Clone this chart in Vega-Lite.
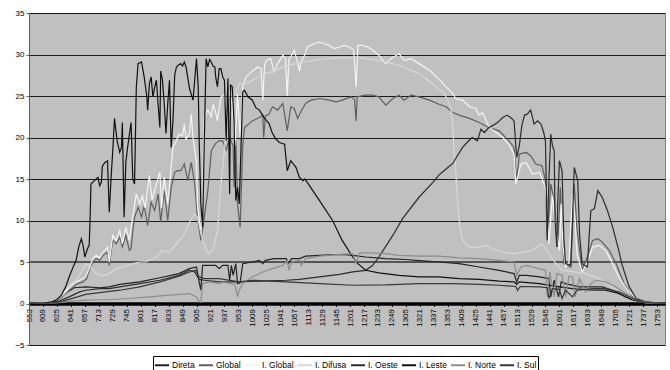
{
  "$schema": "https://vega.github.io/schema/vega-lite/v6.json",
  "width": 636,
  "height": 332,
  "autosize": {"type": "none"},
  "padding": {"left": 29, "top": 13, "right": 5, "bottom": 25},
  "background": "white",
  "config": {"view": {"fill": "#c0c0c0", "stroke": "#808080", "strokeWidth": 1}, "font": "Liberation Sans"},
  "data": {"values": [
{"min":353,"serie":"Direta","v":0},{"min":376,"serie":"Direta","v":0.05},{"min":383,"serie":"Direta","v":0.3},{"min":394,"serie":"Direta","v":1.2},{"min":405,"serie":"Direta","v":1.9},{"min":418,"serie":"Direta","v":2.0},{"min":434,"serie":"Direta","v":1.9},{"min":445,"serie":"Direta","v":2.0},{"min":457,"serie":"Direta","v":2.3},{"min":480,"serie":"Direta","v":2.6},{"min":503,"serie":"Direta","v":3.1},{"min":525,"serie":"Direta","v":3.6},{"min":537,"serie":"Direta","v":4.2},{"min":545,"serie":"Direta","v":4.4},{"min":548,"serie":"Direta","v":2.6},{"min":550,"serie":"Direta","v":1.6},{"min":552,"serie":"Direta","v":4.6},{"min":560,"serie":"Direta","v":4.6},{"min":567,"serie":"Direta","v":4.6},{"min":571,"serie":"Direta","v":4.2},{"min":575,"serie":"Direta","v":4.6},{"min":581,"serie":"Direta","v":4.6},{"min":583,"serie":"Direta","v":2.8},{"min":585,"serie":"Direta","v":4.6},{"min":587,"serie":"Direta","v":3.4},{"min":590,"serie":"Direta","v":4.8},{"min":592,"serie":"Direta","v":2.4},{"min":595,"serie":"Direta","v":2.5},{"min":598,"serie":"Direta","v":4.8},{"min":609,"serie":"Direta","v":5.0},{"min":617,"serie":"Direta","v":5.2},{"min":621,"serie":"Direta","v":4.8},{"min":624,"serie":"Direta","v":5.2},{"min":634,"serie":"Direta","v":5.4},{"min":648,"serie":"Direta","v":5.4},{"min":650,"serie":"Direta","v":4.8},{"min":654,"serie":"Direta","v":5.4},{"min":663,"serie":"Direta","v":5.4},{"min":670,"serie":"Direta","v":5.7},{"min":686,"serie":"Direta","v":5.8},{"min":701,"serie":"Direta","v":5.9},{"min":716,"serie":"Direta","v":5.9},{"min":724,"serie":"Direta","v":5.8},{"min":739,"serie":"Direta","v":5.6},{"min":762,"serie":"Direta","v":5.4},{"min":785,"serie":"Direta","v":5.3},{"min":808,"serie":"Direta","v":5.1},{"min":823,"serie":"Direta","v":5.0},{"min":846,"serie":"Direta","v":4.8},{"min":869,"serie":"Direta","v":4.4},{"min":892,"serie":"Direta","v":4.0},{"min":909,"serie":"Direta","v":3.6},{"min":912,"serie":"Direta","v":2.6},{"min":915,"serie":"Direta","v":3.4},{"min":923,"serie":"Direta","v":3.4},{"min":938,"serie":"Direta","v":3.2},{"min":949,"serie":"Direta","v":3.0},{"min":951,"serie":"Direta","v":0.8},{"min":955,"serie":"Direta","v":2.8},{"min":960,"serie":"Direta","v":0.8},{"min":963,"serie":"Direta","v":2.6},{"min":968,"serie":"Direta","v":2.4},{"min":984,"serie":"Direta","v":2.0},{"min":999,"serie":"Direta","v":2.0},{"min":1010,"serie":"Direta","v":2.0},{"min":1022,"serie":"Direta","v":1.6},{"min":1037,"serie":"Direta","v":0.8},{"min":1052,"serie":"Direta","v":0.2},{"min":1081,"serie":"Direta","v":0},

{"min":353,"serie":"Global","v":0},{"min":376,"serie":"Global","v":0.05},{"min":384,"serie":"Global","v":0.2},{"min":391,"serie":"Global","v":0.8},{"min":399,"serie":"Global","v":1.6},{"min":409,"serie":"Global","v":2.4},{"min":415,"serie":"Global","v":2.6},{"min":419,"serie":"Global","v":3.0},{"min":422,"serie":"Global","v":4.0},{"min":426,"serie":"Global","v":5.0},{"min":430,"serie":"Global","v":5.4},{"min":434,"serie":"Global","v":5.2},{"min":438,"serie":"Global","v":5.8},{"min":443,"serie":"Global","v":6.2},{"min":445,"serie":"Global","v":4.6},{"min":449,"serie":"Global","v":7.6},{"min":453,"serie":"Global","v":7.2},{"min":457,"serie":"Global","v":8.0},{"min":460,"serie":"Global","v":6.8},{"min":464,"serie":"Global","v":8.2},{"min":468,"serie":"Global","v":6.4},{"min":470,"serie":"Global","v":6.6},{"min":472,"serie":"Global","v":8.8},{"min":474,"serie":"Global","v":10.4},{"min":478,"serie":"Global","v":11.6},{"min":482,"serie":"Global","v":10.4},{"min":485,"serie":"Global","v":11.8},{"min":489,"serie":"Global","v":9.4},{"min":493,"serie":"Global","v":12.2},{"min":497,"serie":"Global","v":11.2},{"min":501,"serie":"Global","v":13.2},{"min":504,"serie":"Global","v":9.8},{"min":508,"serie":"Global","v":13.6},{"min":512,"serie":"Global","v":10},{"min":516,"serie":"Global","v":14},{"min":520,"serie":"Global","v":15.8},{"min":523,"serie":"Global","v":16},{"min":527,"serie":"Global","v":16},{"min":531,"serie":"Global","v":16.8},{"min":535,"serie":"Global","v":14.8},{"min":539,"serie":"Global","v":17},{"min":543,"serie":"Global","v":14.4},{"min":546,"serie":"Global","v":10.4},{"min":550,"serie":"Global","v":7.6},{"min":554,"serie":"Global","v":10.4},{"min":558,"serie":"Global","v":13.6},{"min":562,"serie":"Global","v":18.4},{"min":564,"serie":"Global","v":18.8},{"min":567,"serie":"Global","v":19.3},{"min":571,"serie":"Global","v":19.6},{"min":575,"serie":"Global","v":19.6},{"min":579,"serie":"Global","v":18.5},{"min":583,"serie":"Global","v":20},{"min":587,"serie":"Global","v":19},{"min":588,"serie":"Global","v":14},{"min":590,"serie":"Global","v":19.6},{"min":592,"serie":"Global","v":12},{"min":595,"serie":"Global","v":9.2},{"min":598,"serie":"Global","v":19},{"min":600,"serie":"Global","v":21.2},{"min":609,"serie":"Global","v":22},{"min":617,"serie":"Global","v":22.4},{"min":621,"serie":"Global","v":22.7},{"min":622,"serie":"Global","v":20},{"min":624,"serie":"Global","v":22.6},{"min":628,"serie":"Global","v":22.8},{"min":632,"serie":"Global","v":23.7},{"min":638,"serie":"Global","v":23.3},{"min":644,"serie":"Global","v":24.1},{"min":649,"serie":"Global","v":20.8},{"min":653,"serie":"Global","v":23.7},{"min":657,"serie":"Global","v":23.5},{"min":661,"serie":"Global","v":22.3},{"min":665,"serie":"Global","v":23.2},{"min":670,"serie":"Global","v":24.1},{"min":676,"serie":"Global","v":24.5},{"min":686,"serie":"Global","v":24.7},{"min":697,"serie":"Global","v":24.5},{"min":705,"serie":"Global","v":24.3},{"min":712,"serie":"Global","v":24.5},{"min":722,"serie":"Global","v":24.9},{"min":726,"serie":"Global","v":24.6},{"min":728,"serie":"Global","v":22},{"min":729,"serie":"Global","v":24.9},{"min":739,"serie":"Global","v":25.1},{"min":747,"serie":"Global","v":25.1},{"min":754,"serie":"Global","v":24.9},{"min":762,"serie":"Global","v":23.9},{"min":770,"serie":"Global","v":24.7},{"min":777,"serie":"Global","v":25.1},{"min":783,"serie":"Global","v":24.5},{"min":791,"serie":"Global","v":25.1},{"min":800,"serie":"Global","v":24.9},{"min":812,"serie":"Global","v":24.5},{"min":823,"serie":"Global","v":24.0},{"min":831,"serie":"Global","v":23.7},{"min":839,"serie":"Global","v":23.0},{"min":846,"serie":"Global","v":22.7},{"min":858,"serie":"Global","v":22.3},{"min":869,"serie":"Global","v":21.8},{"min":880,"serie":"Global","v":21.2},{"min":892,"serie":"Global","v":20.8},{"min":903,"serie":"Global","v":19.6},{"min":909,"serie":"Global","v":18.8},{"min":912,"serie":"Global","v":14.8},{"min":915,"serie":"Global","v":18},{"min":923,"serie":"Global","v":18.2},{"min":928,"serie":"Global","v":17.8},{"min":934,"serie":"Global","v":16.8},{"min":941,"serie":"Global","v":16.6},{"min":945,"serie":"Global","v":14.8},{"min":947,"serie":"Global","v":8},{"min":949,"serie":"Global","v":11},{"min":951,"serie":"Global","v":14.4},{"min":955,"serie":"Global","v":12.4},{"min":959,"serie":"Global","v":6.8},{"min":962,"serie":"Global","v":14},{"min":964,"serie":"Global","v":10},{"min":966,"serie":"Global","v":4.8},{"min":974,"serie":"Global","v":4.4},{"min":978,"serie":"Global","v":14.4},{"min":981,"serie":"Global","v":9},{"min":987,"serie":"Global","v":4.0},{"min":993,"serie":"Global","v":5.6},{"min":999,"serie":"Global","v":7.6},{"min":1005,"serie":"Global","v":7.8},{"min":1010,"serie":"Global","v":7.4},{"min":1018,"serie":"Global","v":6.4},{"min":1026,"serie":"Global","v":4.8},{"min":1035,"serie":"Global","v":2.4},{"min":1045,"serie":"Global","v":0.8},{"min":1058,"serie":"Global","v":0.2},{"min":1081,"serie":"Global","v":0},

{"min":353,"serie":"I. Global","v":0},{"min":376,"serie":"I. Global","v":0.05},{"min":383,"serie":"I. Global","v":0.3},{"min":392,"serie":"I. Global","v":1.2},{"min":403,"serie":"I. Global","v":2.4},{"min":411,"serie":"I. Global","v":2.8},{"min":418,"serie":"I. Global","v":3.2},{"min":422,"serie":"I. Global","v":4.2},{"min":426,"serie":"I. Global","v":5.4},{"min":430,"serie":"I. Global","v":5.8},{"min":434,"serie":"I. Global","v":5.5},{"min":438,"serie":"I. Global","v":6.2},{"min":443,"serie":"I. Global","v":6.8},{"min":445,"serie":"I. Global","v":5},{"min":449,"serie":"I. Global","v":8.2},{"min":453,"serie":"I. Global","v":7.6},{"min":457,"serie":"I. Global","v":8.8},{"min":460,"serie":"I. Global","v":7.2},{"min":464,"serie":"I. Global","v":9.2},{"min":468,"serie":"I. Global","v":7.6},{"min":472,"serie":"I. Global","v":10.5},{"min":476,"serie":"I. Global","v":13.2},{"min":480,"serie":"I. Global","v":12},{"min":483,"serie":"I. Global","v":13},{"min":486,"serie":"I. Global","v":11.5},{"min":491,"serie":"I. Global","v":15.4},{"min":494,"serie":"I. Global","v":12.5},{"min":498,"serie":"I. Global","v":14},{"min":503,"serie":"I. Global","v":15.8},{"min":505,"serie":"I. Global","v":11.5},{"min":508,"serie":"I. Global","v":15.2},{"min":512,"serie":"I. Global","v":12},{"min":516,"serie":"I. Global","v":16.5},{"min":518,"serie":"I. Global","v":18.8},{"min":522,"serie":"I. Global","v":19.6},{"min":525,"serie":"I. Global","v":20.4},{"min":529,"serie":"I. Global","v":20.2},{"min":531,"serie":"I. Global","v":21.6},{"min":533,"serie":"I. Global","v":19.8},{"min":537,"serie":"I. Global","v":20.5},{"min":539,"serie":"I. Global","v":22.8},{"min":541,"serie":"I. Global","v":20},{"min":545,"serie":"I. Global","v":17},{"min":546,"serie":"I. Global","v":12},{"min":550,"serie":"I. Global","v":8.4},{"min":552,"serie":"I. Global","v":13},{"min":554,"serie":"I. Global","v":22.4},{"min":558,"serie":"I. Global","v":23.3},{"min":562,"serie":"I. Global","v":22.5},{"min":564,"serie":"I. Global","v":24.0},{"min":567,"serie":"I. Global","v":23},{"min":569,"serie":"I. Global","v":22},{"min":573,"serie":"I. Global","v":24.9},{"min":577,"serie":"I. Global","v":25.1},{"min":580,"serie":"I. Global","v":23.5},{"min":583,"serie":"I. Global","v":25.7},{"min":586,"serie":"I. Global","v":24},{"min":589,"serie":"I. Global","v":19},{"min":592,"serie":"I. Global","v":25.3},{"min":595,"serie":"I. Global","v":20},{"min":598,"serie":"I. Global","v":26.2},{"min":602,"serie":"I. Global","v":27.3},{"min":608,"serie":"I. Global","v":27.9},{"min":615,"serie":"I. Global","v":28.5},{"min":619,"serie":"I. Global","v":28.3},{"min":621,"serie":"I. Global","v":24.5},{"min":623,"serie":"I. Global","v":28.7},{"min":625,"serie":"I. Global","v":29.3},{"min":630,"serie":"I. Global","v":29.5},{"min":634,"serie":"I. Global","v":27.9},{"min":638,"serie":"I. Global","v":28.9},{"min":644,"serie":"I. Global","v":29.9},{"min":647,"serie":"I. Global","v":29.5},{"min":649,"serie":"I. Global","v":25},{"min":651,"serie":"I. Global","v":29.5},{"min":653,"serie":"I. Global","v":29.7},{"min":657,"serie":"I. Global","v":30.5},{"min":661,"serie":"I. Global","v":29},{"min":663,"serie":"I. Global","v":28},{"min":665,"serie":"I. Global","v":29.2},{"min":669,"serie":"I. Global","v":29.9},{"min":672,"serie":"I. Global","v":30.9},{"min":680,"serie":"I. Global","v":31.3},{"min":686,"serie":"I. Global","v":31.5},{"min":692,"serie":"I. Global","v":31.3},{"min":697,"serie":"I. Global","v":31.1},{"min":703,"serie":"I. Global","v":30.7},{"min":709,"serie":"I. Global","v":30.9},{"min":714,"serie":"I. Global","v":31.1},{"min":720,"serie":"I. Global","v":30.9},{"min":725,"serie":"I. Global","v":30.6},{"min":728,"serie":"I. Global","v":26.1},{"min":730,"serie":"I. Global","v":31.1},{"min":735,"serie":"I. Global","v":31.1},{"min":741,"serie":"I. Global","v":30.9},{"min":747,"serie":"I. Global","v":30.5},{"min":754,"serie":"I. Global","v":29.9},{"min":762,"serie":"I. Global","v":28.9},{"min":768,"serie":"I. Global","v":29.5},{"min":774,"serie":"I. Global","v":29.9},{"min":777,"serie":"I. Global","v":30.1},{"min":783,"serie":"I. Global","v":29.3},{"min":791,"serie":"I. Global","v":29.5},{"min":800,"serie":"I. Global","v":28.9},{"min":812,"serie":"I. Global","v":28.1},{"min":823,"serie":"I. Global","v":27.0},{"min":831,"serie":"I. Global","v":26.1},{"min":839,"serie":"I. Global","v":25.3},{"min":842,"serie":"I. Global","v":24.7},{"min":850,"serie":"I. Global","v":24.5},{"min":858,"serie":"I. Global","v":23.7},{"min":865,"serie":"I. Global","v":23.5},{"min":869,"serie":"I. Global","v":22.7},{"min":873,"serie":"I. Global","v":23},{"min":880,"serie":"I. Global","v":21.3},{"min":888,"serie":"I. Global","v":20.6},{"min":896,"serie":"I. Global","v":20},{"min":903,"serie":"I. Global","v":19.2},{"min":909,"serie":"I. Global","v":18},{"min":911,"serie":"I. Global","v":14.4},{"min":917,"serie":"I. Global","v":16.8},{"min":923,"serie":"I. Global","v":17},{"min":930,"serie":"I. Global","v":15.6},{"min":938,"serie":"I. Global","v":15.8},{"min":945,"serie":"I. Global","v":14},{"min":948,"serie":"I. Global","v":9},{"min":949,"serie":"I. Global","v":7.2},{"min":953,"serie":"I. Global","v":13},{"min":955,"serie":"I. Global","v":11},{"min":957,"serie":"I. Global","v":9},{"min":961,"serie":"I. Global","v":6.4},{"min":963,"serie":"I. Global","v":12},{"min":965,"serie":"I. Global","v":7},{"min":968,"serie":"I. Global","v":4.4},{"min":972,"serie":"I. Global","v":5},{"min":976,"serie":"I. Global","v":13.2},{"min":979,"serie":"I. Global","v":10},{"min":981,"serie":"I. Global","v":6},{"min":987,"serie":"I. Global","v":3.8},{"min":993,"serie":"I. Global","v":5},{"min":999,"serie":"I. Global","v":6.8},{"min":1007,"serie":"I. Global","v":7.0},{"min":1014,"serie":"I. Global","v":6.4},{"min":1022,"serie":"I. Global","v":4.8},{"min":1029,"serie":"I. Global","v":3.2},{"min":1039,"serie":"I. Global","v":1.6},{"min":1049,"serie":"I. Global","v":0.6},{"min":1058,"serie":"I. Global","v":0.15},{"min":1081,"serie":"I. Global","v":0},

{"min":353,"serie":"I. Difusa","v":0},{"min":376,"serie":"I. Difusa","v":0.05},{"min":383,"serie":"I. Difusa","v":0.3},{"min":394,"serie":"I. Difusa","v":1.2},{"min":405,"serie":"I. Difusa","v":2.5},{"min":413,"serie":"I. Difusa","v":3.8},{"min":418,"serie":"I. Difusa","v":4.8},{"min":424,"serie":"I. Difusa","v":4.4},{"min":430,"serie":"I. Difusa","v":3.6},{"min":437,"serie":"I. Difusa","v":3.3},{"min":445,"serie":"I. Difusa","v":3.6},{"min":453,"serie":"I. Difusa","v":4.2},{"min":460,"serie":"I. Difusa","v":4.4},{"min":472,"serie":"I. Difusa","v":4.8},{"min":480,"serie":"I. Difusa","v":5.0},{"min":487,"serie":"I. Difusa","v":5.0},{"min":499,"serie":"I. Difusa","v":5.6},{"min":506,"serie":"I. Difusa","v":6.4},{"min":514,"serie":"I. Difusa","v":6.2},{"min":522,"serie":"I. Difusa","v":7.2},{"min":527,"serie":"I. Difusa","v":7.8},{"min":533,"serie":"I. Difusa","v":8.8},{"min":539,"serie":"I. Difusa","v":10.2},{"min":543,"serie":"I. Difusa","v":10.8},{"min":546,"serie":"I. Difusa","v":10.4},{"min":552,"serie":"I. Difusa","v":7.6},{"min":558,"serie":"I. Difusa","v":6.0},{"min":564,"serie":"I. Difusa","v":6.4},{"min":569,"serie":"I. Difusa","v":8.8},{"min":573,"serie":"I. Difusa","v":14.4},{"min":577,"serie":"I. Difusa","v":18.4},{"min":580,"serie":"I. Difusa","v":22},{"min":584,"serie":"I. Difusa","v":24.5},{"min":588,"serie":"I. Difusa","v":25},{"min":594,"serie":"I. Difusa","v":26.5},{"min":602,"serie":"I. Difusa","v":26.5},{"min":611,"serie":"I. Difusa","v":27},{"min":623,"serie":"I. Difusa","v":27.7},{"min":634,"serie":"I. Difusa","v":28},{"min":646,"serie":"I. Difusa","v":28.6},{"min":663,"serie":"I. Difusa","v":29},{"min":686,"serie":"I. Difusa","v":29.4},{"min":709,"serie":"I. Difusa","v":29.6},{"min":732,"serie":"I. Difusa","v":29.6},{"min":754,"serie":"I. Difusa","v":29.3},{"min":777,"serie":"I. Difusa","v":28.7},{"min":800,"serie":"I. Difusa","v":27.7},{"min":815,"serie":"I. Difusa","v":26.5},{"min":823,"serie":"I. Difusa","v":25.8},{"min":829,"serie":"I. Difusa","v":25.3},{"min":833,"serie":"I. Difusa","v":24.5},{"min":837,"serie":"I. Difusa","v":23.3},{"min":839,"serie":"I. Difusa","v":21.2},{"min":840,"serie":"I. Difusa","v":18.8},{"min":842,"serie":"I. Difusa","v":16.4},{"min":844,"serie":"I. Difusa","v":12.4},{"min":847,"serie":"I. Difusa","v":9.2},{"min":850,"serie":"I. Difusa","v":7.6},{"min":858,"serie":"I. Difusa","v":6.8},{"min":869,"serie":"I. Difusa","v":6.8},{"min":877,"serie":"I. Difusa","v":7.0},{"min":884,"serie":"I. Difusa","v":6.6},{"min":896,"serie":"I. Difusa","v":6.2},{"min":907,"serie":"I. Difusa","v":6.0},{"min":919,"serie":"I. Difusa","v":6.2},{"min":930,"serie":"I. Difusa","v":6.4},{"min":938,"serie":"I. Difusa","v":7.0},{"min":941,"serie":"I. Difusa","v":7.2},{"min":949,"serie":"I. Difusa","v":6.0},{"min":957,"serie":"I. Difusa","v":4.8},{"min":964,"serie":"I. Difusa","v":4.0},{"min":978,"serie":"I. Difusa","v":3.8},{"min":991,"serie":"I. Difusa","v":3.6},{"min":1007,"serie":"I. Difusa","v":3.0},{"min":1021,"serie":"I. Difusa","v":2.0},{"min":1035,"serie":"I. Difusa","v":1.0},{"min":1048,"serie":"I. Difusa","v":0.3},{"min":1061,"serie":"I. Difusa","v":0.05},{"min":1081,"serie":"I. Difusa","v":0},

{"min":353,"serie":"I. Oeste","v":0},{"min":376,"serie":"I. Oeste","v":0.05},{"min":388,"serie":"I. Oeste","v":0.3},{"min":399,"serie":"I. Oeste","v":0.8},{"min":411,"serie":"I. Oeste","v":1.4},{"min":418,"serie":"I. Oeste","v":1.6},{"min":434,"serie":"I. Oeste","v":1.8},{"min":445,"serie":"I. Oeste","v":1.8},{"min":457,"serie":"I. Oeste","v":2.0},{"min":480,"serie":"I. Oeste","v":2.4},{"min":503,"serie":"I. Oeste","v":2.8},{"min":525,"serie":"I. Oeste","v":3.4},{"min":537,"serie":"I. Oeste","v":4.0},{"min":543,"serie":"I. Oeste","v":3.8},{"min":548,"serie":"I. Oeste","v":2.9},{"min":554,"serie":"I. Oeste","v":2.8},{"min":571,"serie":"I. Oeste","v":2.6},{"min":594,"serie":"I. Oeste","v":2.6},{"min":617,"serie":"I. Oeste","v":2.7},{"min":648,"serie":"I. Oeste","v":2.8},{"min":663,"serie":"I. Oeste","v":2.9},{"min":686,"serie":"I. Oeste","v":3.2},{"min":709,"serie":"I. Oeste","v":3.5},{"min":724,"serie":"I. Oeste","v":3.8},{"min":739,"serie":"I. Oeste","v":4.0},{"min":747,"serie":"I. Oeste","v":4.6},{"min":754,"serie":"I. Oeste","v":5.6},{"min":770,"serie":"I. Oeste","v":8.2},{"min":781,"serie":"I. Oeste","v":10.2},{"min":800,"serie":"I. Oeste","v":12.8},{"min":816,"serie":"I. Oeste","v":14.6},{"min":823,"serie":"I. Oeste","v":15.5},{"min":831,"serie":"I. Oeste","v":16.2},{"min":839,"serie":"I. Oeste","v":16.9},{"min":844,"serie":"I. Oeste","v":17.8},{"min":850,"serie":"I. Oeste","v":18.8},{"min":855,"serie":"I. Oeste","v":19.4},{"min":861,"serie":"I. Oeste","v":20.0},{"min":867,"serie":"I. Oeste","v":19.6},{"min":871,"serie":"I. Oeste","v":21.0},{"min":875,"serie":"I. Oeste","v":20.6},{"min":880,"serie":"I. Oeste","v":21.2},{"min":884,"serie":"I. Oeste","v":21.4},{"min":890,"serie":"I. Oeste","v":21.8},{"min":896,"serie":"I. Oeste","v":22.4},{"min":901,"serie":"I. Oeste","v":22.7},{"min":905,"serie":"I. Oeste","v":22.4},{"min":909,"serie":"I. Oeste","v":22},{"min":912,"serie":"I. Oeste","v":17.6},{"min":915,"serie":"I. Oeste","v":19},{"min":918,"serie":"I. Oeste","v":21.5},{"min":921,"serie":"I. Oeste","v":22.7},{"min":924,"serie":"I. Oeste","v":22.8},{"min":928,"serie":"I. Oeste","v":23.3},{"min":932,"serie":"I. Oeste","v":21.6},{"min":936,"serie":"I. Oeste","v":22},{"min":940,"serie":"I. Oeste","v":21.6},{"min":943,"serie":"I. Oeste","v":20.6},{"min":945,"serie":"I. Oeste","v":19.5},{"min":947,"serie":"I. Oeste","v":7.6},{"min":949,"serie":"I. Oeste","v":15},{"min":951,"serie":"I. Oeste","v":20.4},{"min":953,"serie":"I. Oeste","v":19},{"min":955,"serie":"I. Oeste","v":18.4},{"min":956,"serie":"I. Oeste","v":10},{"min":958,"serie":"I. Oeste","v":6.8},{"min":959,"serie":"I. Oeste","v":12},{"min":961,"serie":"I. Oeste","v":17.2},{"min":964,"serie":"I. Oeste","v":16},{"min":966,"serie":"I. Oeste","v":8},{"min":968,"serie":"I. Oeste","v":4.8},{"min":974,"serie":"I. Oeste","v":4.6},{"min":976,"serie":"I. Oeste","v":10},{"min":978,"serie":"I. Oeste","v":16.4},{"min":982,"serie":"I. Oeste","v":14.8},{"min":984,"serie":"I. Oeste","v":8.4},{"min":987,"serie":"I. Oeste","v":4.8},{"min":993,"serie":"I. Oeste","v":4.4},{"min":995,"serie":"I. Oeste","v":8},{"min":997,"serie":"I. Oeste","v":11.2},{"min":1001,"serie":"I. Oeste","v":11.4},{"min":1005,"serie":"I. Oeste","v":13.6},{"min":1010,"serie":"I. Oeste","v":12.8},{"min":1016,"serie":"I. Oeste","v":11.2},{"min":1022,"serie":"I. Oeste","v":9.2},{"min":1029,"serie":"I. Oeste","v":6.4},{"min":1033,"serie":"I. Oeste","v":4.6},{"min":1041,"serie":"I. Oeste","v":2.0},{"min":1049,"serie":"I. Oeste","v":0.6},{"min":1060,"serie":"I. Oeste","v":0.2},{"min":1081,"serie":"I. Oeste","v":0},

{"min":353,"serie":"I. Leste","v":0},{"min":371,"serie":"I. Leste","v":0.05},{"min":379,"serie":"I. Leste","v":0.2},{"min":384,"serie":"I. Leste","v":0.4},{"min":390,"serie":"I. Leste","v":1.0},{"min":395,"serie":"I. Leste","v":2.0},{"min":399,"serie":"I. Leste","v":3.2},{"min":404,"serie":"I. Leste","v":4.5},{"min":407,"serie":"I. Leste","v":5.2},{"min":410,"serie":"I. Leste","v":6.8},{"min":413,"serie":"I. Leste","v":7.8},{"min":415,"serie":"I. Leste","v":7.0},{"min":417,"serie":"I. Leste","v":5.6},{"min":420,"serie":"I. Leste","v":6.6},{"min":422,"serie":"I. Leste","v":7.0},{"min":423,"serie":"I. Leste","v":10},{"min":424,"serie":"I. Leste","v":14.4},{"min":428,"serie":"I. Leste","v":14.8},{"min":432,"serie":"I. Leste","v":15.2},{"min":434,"serie":"I. Leste","v":14.2},{"min":436,"serie":"I. Leste","v":14.6},{"min":437,"serie":"I. Leste","v":16.5},{"min":440,"serie":"I. Leste","v":17},{"min":443,"serie":"I. Leste","v":17.2},{"min":445,"serie":"I. Leste","v":11},{"min":447,"serie":"I. Leste","v":15},{"min":449,"serie":"I. Leste","v":18.4},{"min":451,"serie":"I. Leste","v":22.3},{"min":453,"serie":"I. Leste","v":20.5},{"min":454,"serie":"I. Leste","v":19.6},{"min":457,"serie":"I. Leste","v":18.2},{"min":459,"serie":"I. Leste","v":18.8},{"min":460,"serie":"I. Leste","v":21.8},{"min":462,"serie":"I. Leste","v":10.4},{"min":464,"serie":"I. Leste","v":17},{"min":466,"serie":"I. Leste","v":18.8},{"min":470,"serie":"I. Leste","v":21.8},{"min":472,"serie":"I. Leste","v":15},{"min":474,"serie":"I. Leste","v":14.4},{"min":476,"serie":"I. Leste","v":26},{"min":478,"serie":"I. Leste","v":28.9},{"min":482,"serie":"I. Leste","v":29.1},{"min":483,"serie":"I. Leste","v":28.5},{"min":485,"serie":"I. Leste","v":27.3},{"min":488,"serie":"I. Leste","v":25},{"min":489,"serie":"I. Leste","v":23.3},{"min":491,"serie":"I. Leste","v":26.5},{"min":493,"serie":"I. Leste","v":27.3},{"min":495,"serie":"I. Leste","v":24.9},{"min":497,"serie":"I. Leste","v":26},{"min":499,"serie":"I. Leste","v":26.9},{"min":501,"serie":"I. Leste","v":24},{"min":503,"serie":"I. Leste","v":21.2},{"min":504,"serie":"I. Leste","v":28},{"min":506,"serie":"I. Leste","v":26.9},{"min":508,"serie":"I. Leste","v":24},{"min":510,"serie":"I. Leste","v":20.5},{"min":512,"serie":"I. Leste","v":24},{"min":514,"serie":"I. Leste","v":26.9},{"min":516,"serie":"I. Leste","v":18.8},{"min":518,"serie":"I. Leste","v":22},{"min":520,"serie":"I. Leste","v":27.5},{"min":522,"serie":"I. Leste","v":28.5},{"min":524,"serie":"I. Leste","v":28.7},{"min":527,"serie":"I. Leste","v":28.9},{"min":529,"serie":"I. Leste","v":28.6},{"min":531,"serie":"I. Leste","v":29.1},{"min":533,"serie":"I. Leste","v":28.5},{"min":537,"serie":"I. Leste","v":25.9},{"min":541,"serie":"I. Leste","v":24.5},{"min":543,"serie":"I. Leste","v":27},{"min":545,"serie":"I. Leste","v":29.5},{"min":547,"serie":"I. Leste","v":26},{"min":548,"serie":"I. Leste","v":20},{"min":550,"serie":"I. Leste","v":12},{"min":552,"serie":"I. Leste","v":9.2},{"min":554,"serie":"I. Leste","v":20},{"min":556,"serie":"I. Leste","v":29.5},{"min":558,"serie":"I. Leste","v":28.5},{"min":560,"serie":"I. Leste","v":29.4},{"min":562,"serie":"I. Leste","v":29.1},{"min":564,"serie":"I. Leste","v":28.6},{"min":566,"serie":"I. Leste","v":28.5},{"min":567,"serie":"I. Leste","v":27.3},{"min":569,"serie":"I. Leste","v":26.1},{"min":571,"serie":"I. Leste","v":28.3},{"min":573,"serie":"I. Leste","v":28.3},{"min":575,"serie":"I. Leste","v":27.3},{"min":577,"serie":"I. Leste","v":26.9},{"min":579,"serie":"I. Leste","v":19.6},{"min":581,"serie":"I. Leste","v":27.1},{"min":583,"serie":"I. Leste","v":13.2},{"min":584,"serie":"I. Leste","v":26.3},{"min":586,"serie":"I. Leste","v":26.1},{"min":588,"serie":"I. Leste","v":22},{"min":590,"serie":"I. Leste","v":12.4},{"min":592,"serie":"I. Leste","v":14},{"min":594,"serie":"I. Leste","v":12},{"min":598,"serie":"I. Leste","v":25.5},{"min":600,"serie":"I. Leste","v":25.7},{"min":604,"serie":"I. Leste","v":24.9},{"min":609,"serie":"I. Leste","v":24.5},{"min":613,"serie":"I. Leste","v":23.6},{"min":617,"serie":"I. Leste","v":23.3},{"min":623,"serie":"I. Leste","v":22.3},{"min":628,"serie":"I. Leste","v":21.7},{"min":632,"serie":"I. Leste","v":20.5},{"min":636,"serie":"I. Leste","v":19.8},{"min":640,"serie":"I. Leste","v":19.4},{"min":646,"serie":"I. Leste","v":19.2},{"min":649,"serie":"I. Leste","v":16},{"min":653,"serie":"I. Leste","v":17.2},{"min":659,"serie":"I. Leste","v":16.4},{"min":663,"serie":"I. Leste","v":15.2},{"min":667,"serie":"I. Leste","v":14.8},{"min":669,"serie":"I. Leste","v":15},{"min":672,"serie":"I. Leste","v":14.6},{"min":686,"serie":"I. Leste","v":12.4},{"min":701,"serie":"I. Leste","v":10},{"min":712,"serie":"I. Leste","v":7.6},{"min":724,"serie":"I. Leste","v":5.6},{"min":730,"serie":"I. Leste","v":4.8},{"min":739,"serie":"I. Leste","v":4.0},{"min":754,"serie":"I. Leste","v":3.7},{"min":777,"serie":"I. Leste","v":3.4},{"min":800,"serie":"I. Leste","v":3.2},{"min":823,"serie":"I. Leste","v":3.2},{"min":846,"serie":"I. Leste","v":3.0},{"min":869,"serie":"I. Leste","v":2.9},{"min":892,"serie":"I. Leste","v":2.7},{"min":909,"serie":"I. Leste","v":2.6},{"min":912,"serie":"I. Leste","v":2.3},{"min":915,"serie":"I. Leste","v":2.6},{"min":938,"serie":"I. Leste","v":2.4},{"min":961,"serie":"I. Leste","v":2.0},{"min":976,"serie":"I. Leste","v":1.8},{"min":995,"serie":"I. Leste","v":1.65},{"min":1014,"serie":"I. Leste","v":1.6},{"min":1029,"serie":"I. Leste","v":1.2},{"min":1044,"serie":"I. Leste","v":0.45},{"min":1058,"serie":"I. Leste","v":0.1},{"min":1081,"serie":"I. Leste","v":0},

{"min":353,"serie":"I. Norte","v":0},{"min":376,"serie":"I. Norte","v":0.02},{"min":388,"serie":"I. Norte","v":0.1},{"min":399,"serie":"I. Norte","v":0.25},{"min":418,"serie":"I. Norte","v":0.4},{"min":434,"serie":"I. Norte","v":0.45},{"min":445,"serie":"I. Norte","v":0.45},{"min":468,"serie":"I. Norte","v":0.6},{"min":491,"serie":"I. Norte","v":0.8},{"min":514,"serie":"I. Norte","v":1.0},{"min":537,"serie":"I. Norte","v":1.2},{"min":545,"serie":"I. Norte","v":0.8},{"min":548,"serie":"I. Norte","v":0.2},{"min":550,"serie":"I. Norte","v":0.15},{"min":552,"serie":"I. Norte","v":2.4},{"min":560,"serie":"I. Norte","v":2.6},{"min":571,"serie":"I. Norte","v":2.4},{"min":575,"serie":"I. Norte","v":2.6},{"min":589,"serie":"I. Norte","v":2.3},{"min":592,"serie":"I. Norte","v":0.8},{"min":594,"serie":"I. Norte","v":1.6},{"min":598,"serie":"I. Norte","v":2.4},{"min":609,"serie":"I. Norte","v":3.2},{"min":621,"serie":"I. Norte","v":3.8},{"min":632,"serie":"I. Norte","v":4.2},{"min":644,"serie":"I. Norte","v":4.6},{"min":649,"serie":"I. Norte","v":5.2},{"min":651,"serie":"I. Norte","v":4.0},{"min":654,"serie":"I. Norte","v":5.0},{"min":663,"serie":"I. Norte","v":5.2},{"min":665,"serie":"I. Norte","v":4.6},{"min":670,"serie":"I. Norte","v":5.4},{"min":686,"serie":"I. Norte","v":5.7},{"min":705,"serie":"I. Norte","v":5.9},{"min":724,"serie":"I. Norte","v":6.0},{"min":728,"serie":"I. Norte","v":4.8},{"min":732,"serie":"I. Norte","v":6.1},{"min":743,"serie":"I. Norte","v":6.1},{"min":762,"serie":"I. Norte","v":6.0},{"min":777,"serie":"I. Norte","v":5.8},{"min":800,"serie":"I. Norte","v":5.7},{"min":823,"serie":"I. Norte","v":5.7},{"min":846,"serie":"I. Norte","v":5.5},{"min":869,"serie":"I. Norte","v":5.4},{"min":892,"serie":"I. Norte","v":5.2},{"min":909,"serie":"I. Norte","v":5.0},{"min":912,"serie":"I. Norte","v":3.4},{"min":917,"serie":"I. Norte","v":4.4},{"min":924,"serie":"I. Norte","v":4.6},{"min":930,"serie":"I. Norte","v":4.4},{"min":945,"serie":"I. Norte","v":4.0},{"min":947,"serie":"I. Norte","v":0.8},{"min":950,"serie":"I. Norte","v":3.8},{"min":955,"serie":"I. Norte","v":0.8},{"min":958,"serie":"I. Norte","v":3.6},{"min":964,"serie":"I. Norte","v":3.4},{"min":968,"serie":"I. Norte","v":0.8},{"min":972,"serie":"I. Norte","v":3.3},{"min":976,"serie":"I. Norte","v":3.2},{"min":979,"serie":"I. Norte","v":0.8},{"min":984,"serie":"I. Norte","v":3.0},{"min":991,"serie":"I. Norte","v":1.4},{"min":997,"serie":"I. Norte","v":2.4},{"min":1003,"serie":"I. Norte","v":2.8},{"min":1014,"serie":"I. Norte","v":2.6},{"min":1026,"serie":"I. Norte","v":2.0},{"min":1037,"serie":"I. Norte","v":1.2},{"min":1049,"serie":"I. Norte","v":0.4},{"min":1061,"serie":"I. Norte","v":0.1},{"min":1081,"serie":"I. Norte","v":0},

{"min":353,"serie":"I. Sul","v":0},{"min":376,"serie":"I. Sul","v":0.03},{"min":388,"serie":"I. Sul","v":0.2},{"min":399,"serie":"I. Sul","v":0.5},{"min":418,"serie":"I. Sul","v":1.1},{"min":434,"serie":"I. Sul","v":1.3},{"min":457,"serie":"I. Sul","v":1.6},{"min":480,"serie":"I. Sul","v":2.0},{"min":503,"serie":"I. Sul","v":2.6},{"min":525,"serie":"I. Sul","v":3.3},{"min":537,"serie":"I. Sul","v":3.8},{"min":544,"serie":"I. Sul","v":4.0},{"min":548,"serie":"I. Sul","v":3.2},{"min":554,"serie":"I. Sul","v":3.0},{"min":571,"serie":"I. Sul","v":3.0},{"min":594,"serie":"I. Sul","v":2.6},{"min":609,"serie":"I. Sul","v":2.8},{"min":648,"serie":"I. Sul","v":2.6},{"min":686,"serie":"I. Sul","v":2.4},{"min":724,"serie":"I. Sul","v":2.2},{"min":762,"serie":"I. Sul","v":2.25},{"min":800,"serie":"I. Sul","v":2.4},{"min":839,"serie":"I. Sul","v":2.4},{"min":869,"serie":"I. Sul","v":2.3},{"min":892,"serie":"I. Sul","v":2.2},{"min":911,"serie":"I. Sul","v":2.05},{"min":913,"serie":"I. Sul","v":1.6},{"min":916,"serie":"I. Sul","v":2.05},{"min":938,"serie":"I. Sul","v":2.0},{"min":947,"serie":"I. Sul","v":1.9},{"min":949,"serie":"I. Sul","v":0.6},{"min":953,"serie":"I. Sul","v":1.8},{"min":961,"serie":"I. Sul","v":1.7},{"min":964,"serie":"I. Sul","v":0.6},{"min":968,"serie":"I. Sul","v":1.6},{"min":976,"serie":"I. Sul","v":0.8},{"min":981,"serie":"I. Sul","v":1.6},{"min":999,"serie":"I. Sul","v":1.8},{"min":1014,"serie":"I. Sul","v":1.8},{"min":1029,"serie":"I. Sul","v":1.4},{"min":1045,"serie":"I. Sul","v":0.6},{"min":1058,"serie":"I. Sul","v":0.1},{"min":1081,"serie":"I. Sul","v":0}
  ]},
  "layer": [
    {
      "mark": {"type": "rule", "color": "#555555", "strokeWidth": 2},
      "encoding": {"y": {"datum": 5, "type": "quantitative"}}
    },
    {
      "mark": {"type": "line", "strokeWidth": 1.2, "interpolate": "linear", "clip": true},
      "encoding": {
        "x": {
          "field": "min", "type": "quantitative",
          "scale": {"domain": [353, 1082], "nice": false, "zero": false},
          "axis": {
            "title": null, "orient": "bottom", "offset": -41.5, "grid": false,
            "values": [353,369,385,401,417,433,449,465,481,497,513,529,545,561,577,593,609,625,641,657,673,689,705,721,737,753,769,785,801,817,833,849,865,881,897,913,929,945,961,977,993,1009,1025,1041,1057,1073],
            "labelExpr": "floor(datum.value/60) + (datum.value%60 < 10 ? '0' : '') + (datum.value%60)",
            "labelAngle": -90, "labelFontSize": 8, "labelFont": "Liberation Sans", "labelColor": "#000000",
            "labelPadding": 2, "labelOverlap": false, "labelFlush": false,
            "domainColor": "#000000", "domainWidth": 3.5, "tickColor": "#000000", "tickSize": 3, "tickWidth": 1
          }
        },
        "y": {
          "field": "v", "type": "quantitative",
          "scale": {"domain": [-5, 35], "nice": false, "zero": false},
          "axis": {
            "title": null, "values": [-5,0,5,10,15,20,25,30,35], "grid": true, "gridColor": "#1a1a1a", "gridWidth": 1,
            "labelFontSize": 8, "labelFont": "Liberation Sans", "labelColor": "#000000", "labelPadding": 2,
            "domainColor": "#606060", "domainWidth": 1, "tickColor": "#606060", "tickSize": 3
          }
        },
        "color": {
          "field": "serie", "type": "nominal",
          "scale": {
            "domain": ["Direta","Global","I. Global","I. Difusa","I. Oeste","I. Leste","I. Norte","I. Sul"],
            "range": ["#222222","#5f5f5f","#f4f4f4","#d8d8d8","#2c2c2c","#111111","#8c8c8c","#383838"]
          },
          "legend": {
            "title": null, "orient": "none", "legendX": 124, "legendY": 343, "direction": "horizontal", "columns": 8,
            "symbolType": "stroke", "symbolSize": 196, "symbolStrokeWidth": 2,
            "labelFontSize": 8.5, "labelFont": "Liberation Sans", "labelColor": "#000000", "labelOffset": 2,
            "columnPadding": 0, "padding": 1, "strokeColor": "#000000", "fillColor": "#ffffff"
          }
        }
      }
    }
  ]
}
